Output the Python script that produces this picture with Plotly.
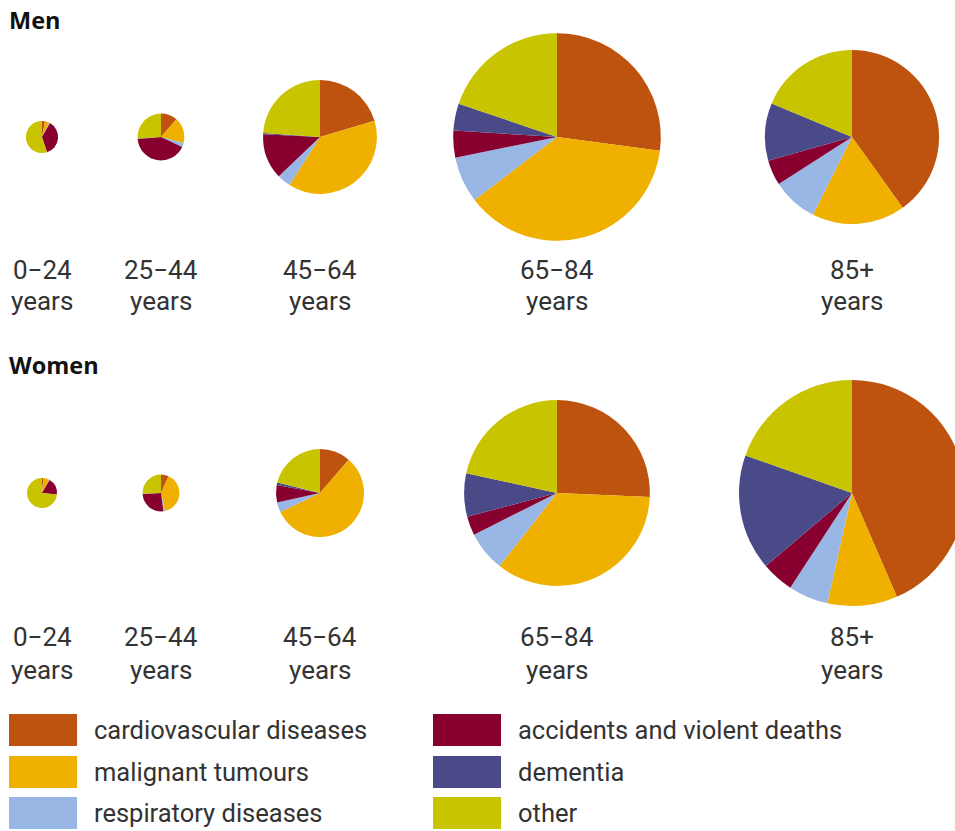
import math
import plotly.graph_objects as go

# ---------------- data ----------------
categories = [
    "cardiovascular diseases",
    "malignant tumours",
    "respiratory diseases",
    "accidents and violent deaths",
    "dementia",
    "other",
]
age_groups = ["0−24", "25−44", "45−64", "65−84", "85+"]

# share of deaths per cause (%), order = categories
men_shares = [
    [3.0, 4.5, 0.8, 36.7, 0.0, 55.0],
    [11.4, 17.7, 2.9, 41.7, 0.3, 26.0],
    [20.4, 38.6, 3.9, 12.9, 0.3, 23.9],
    [27.1, 37.5, 7.2, 4.2, 4.2, 19.8],
    [40.1, 17.3, 8.5, 4.7, 10.7, 18.7],
]
women_shares = [
    [1.5, 6.5, 0.5, 18.0, 0.0, 73.5],
    [6.7, 39.8, 1.4, 26.3, 0.2, 25.6],
    [11.3, 56.6, 3.6, 6.4, 0.9, 21.2],
    [25.7, 34.9, 7.0, 3.3, 7.5, 21.6],
    [43.5, 10.0, 5.7, 4.6, 16.6, 19.6],
]
# relative number of deaths per age group (pie area)
men_totals = [2.6, 5.5, 32.5, 108.0, 76.0]
women_totals = [2.25, 3.4, 19.4, 86.5, 128.0]

# ---------------- styles / layout ----------------
colors = ["#BE5310", "#EFB000", "#99B7E5", "#870030", "#4A4A89", "#C9C400"]
W, H = 965, 831
RMAX = 113.0
col_x = [42, 161, 320, 557, 852]
text_color = "#333333"
label_font = dict(family="Roboto", size=26, color=text_color)
legend_font = dict(family="Roboto", size=25.5, color=text_color)
title_font = dict(family="Open Sans", size=23.5, color="#111111", weight="bold")

rows = [
    dict(name="Men", title_y=20, pie_y=137, label_y=(270, 301),
         shares=men_shares, totals=men_totals),
    dict(name="Women", title_y=365, pie_y=493, label_y=(637, 670),
         shares=women_shares, totals=women_totals),
]

max_total = max(max(men_totals), max(women_totals))

fig = go.Figure()
annotations = []
shapes = []

for row in rows:
    annotations.append(dict(
        x=7, y=row["title_y"], xref="x", yref="y", text=row["name"],
        showarrow=False, xanchor="left", yanchor="middle", font=title_font))
    for i, age in enumerate(age_groups):
        r = RMAX * math.sqrt(row["totals"][i] / max_total)
        cx, cy = col_x[i], row["pie_y"]
        fig.add_trace(go.Pie(
            labels=categories,
            values=row["shares"][i],
            marker=dict(colors=colors, line=dict(width=0)),
            sort=False,
            direction="clockwise",
            rotation=0,
            textinfo="none",
            hovertemplate="%{label}: %{value}%<extra>" + row["name"] + " " + age + "</extra>",
            showlegend=False,
            domain=dict(x=[(cx - r) / W, (cx + r) / W],
                        y=[(H - cy - r) / H, (H - cy + r) / H]),
        ))
        annotations.append(dict(
            x=cx, y=row["label_y"][0], xref="x", yref="y", text=age,
            showarrow=False, xanchor="center", yanchor="middle", font=label_font))
        annotations.append(dict(
            x=cx, y=row["label_y"][1], xref="x", yref="y", text="years",
            showarrow=False, xanchor="center", yanchor="middle", font=label_font))

# custom legend
legend_rows_y = [730, 772, 813]
legend_cols_x = [9, 433]
for k, cat in enumerate(categories):
    c = k // 3
    rr = k % 3
    x0 = legend_cols_x[c]
    yc = legend_rows_y[rr]
    shapes.append(dict(type="rect", xref="x", yref="y",
                       x0=x0, x1=x0 + 68, y0=yc - 16, y1=yc + 16,
                       fillcolor=colors[k], line=dict(width=0)))
    annotations.append(dict(
        x=x0 + 83, y=yc, xref="x", yref="y", text=cat, showarrow=False,
        xanchor="left", yanchor="middle", font=legend_font))

fig.update_layout(
    width=W, height=H,
    margin=dict(l=0, r=0, t=0, b=0),
    paper_bgcolor="white", plot_bgcolor="white",
    xaxis=dict(range=[0, W], visible=False, fixedrange=True),
    yaxis=dict(range=[H, 0], visible=False, fixedrange=True),
    annotations=annotations,
    shapes=shapes,
    showlegend=False,
)

fig.write_html(
    "out.html",
    config={"displayModeBar": False},
    post_script="document.body.style.margin='0';document.body.style.overflow='hidden';",
)
